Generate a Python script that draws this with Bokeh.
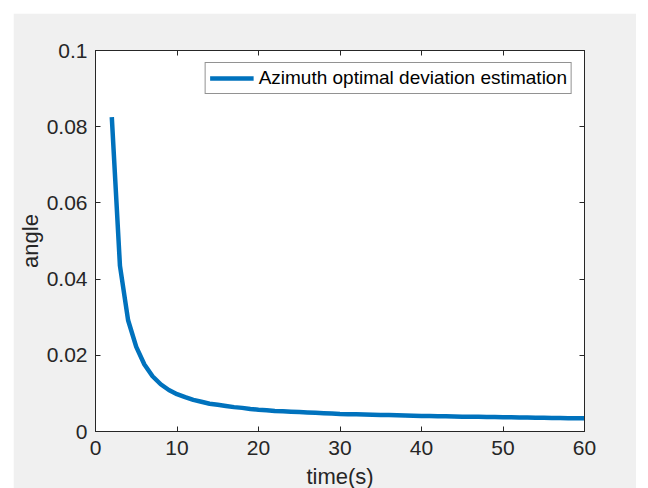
from bokeh.plotting import figure
from bokeh.models import LinearAxis, FixedTicker, Range1d, Spacer
from bokeh.layouts import row, column
from bokeh.embed import file_html
from bokeh.resources import INLINE

# ---- data ----
time_s = list(range(2, 61))
angle = [
    0.0825, 0.0435, 0.0292, 0.0222, 0.0176, 0.0145, 0.0124, 0.0109, 0.0098,
    0.0090, 0.0083, 0.0078, 0.0073, 0.0070, 0.0067, 0.0064, 0.0062, 0.0059,
    0.0057, 0.0056, 0.0054, 0.0053, 0.0052, 0.0051, 0.0050, 0.0049, 0.0048,
    0.0047, 0.0046, 0.00455, 0.0045, 0.00445, 0.0044, 0.00435, 0.0043,
    0.00425, 0.0042, 0.00415, 0.0041, 0.00406, 0.00402, 0.00398, 0.00394,
    0.0039, 0.00387, 0.00384, 0.00381, 0.00378, 0.00375, 0.00372, 0.00369,
    0.00366, 0.00363, 0.0036, 0.00357, 0.00354, 0.00351, 0.00348, 0.00345,
]
series_label = "Azimuth optimal deviation estimation"
x_ticks = [0, 10, 20, 30, 40, 50, 60]
y_ticks = [0, 0.02, 0.04, 0.06, 0.08, 0.1]
y_tick_labels = ["0", "0.02", "0.04", "0.06", "0.08", "0.1"]
x_label = "time(s)"
y_label = "angle"

FONT = "Liberation Sans"
DARK = "#262626"

p = figure(
    frame_width=489, frame_height=381,
    x_range=Range1d(0, 60), y_range=Range1d(0, 0.1),
    output_backend="svg", toolbar_location=None,
    background_fill_color="white", border_fill_color="#f0f0f0",
    min_border_left=82, min_border_right=52, min_border_top=37, min_border_bottom=57,
)
p.grid.visible = False
p.outline_line_color = DARK
p.outline_line_width = 1

p.line(time_s, angle, line_color="#0072BD", line_width=4.5, legend_label=series_label)

def style_axis(ax, show_labels=True):
    ax.axis_line_color = DARK
    ax.major_tick_line_color = DARK
    ax.minor_tick_line_color = None
    ax.major_tick_in = 5
    ax.major_tick_out = 0
    if show_labels:
        ax.major_label_text_font = FONT
        ax.major_label_text_font_size = "21px"
        ax.major_label_text_color = DARK
        ax.axis_label_text_font = FONT
        ax.axis_label_text_font_size = "22px"
        ax.axis_label_text_font_style = "normal"
        ax.axis_label_text_color = DARK
    else:
        ax.major_label_text_font_size = "1px"
        ax.major_label_text_color = None
        ax.major_label_standoff = 0

xa = p.xaxis[0]
xa.ticker = FixedTicker(ticks=x_ticks)
xa.axis_label = x_label
xa.major_label_standoff = 9
xa.axis_label_standoff = 6
style_axis(xa)

ya = p.yaxis[0]
ya.ticker = FixedTicker(ticks=y_ticks)
ya.major_label_overrides = {t: l for t, l in zip(y_ticks, y_tick_labels)}
ya.axis_label = y_label
ya.major_label_standoff = 8
ya.axis_label_standoff = 1
style_axis(ya)

top = LinearAxis(ticker=FixedTicker(ticks=x_ticks))
style_axis(top, show_labels=False)
p.add_layout(top, "above")
right = LinearAxis(ticker=FixedTicker(ticks=y_ticks))
style_axis(right, show_labels=False)
p.add_layout(right, "right")

lg = p.legend[0]
lg.location = "top_right"
lg.margin = 12
lg.padding = 4
lg.spacing = 0
lg.label_text_font = FONT
lg.label_text_font_size = "19px"
lg.label_text_color = "black"
lg.glyph_width = 44
lg.glyph_height = 20
lg.label_height = 20
lg.label_standoff = 5
lg.border_line_color = DARK
lg.border_line_width = 1
lg.background_fill_color = "white"
lg.background_fill_alpha = 1

layout = row(Spacer(width=13), column(Spacer(height=13), p))

open("out.html", "w").write(file_html(layout, INLINE))
